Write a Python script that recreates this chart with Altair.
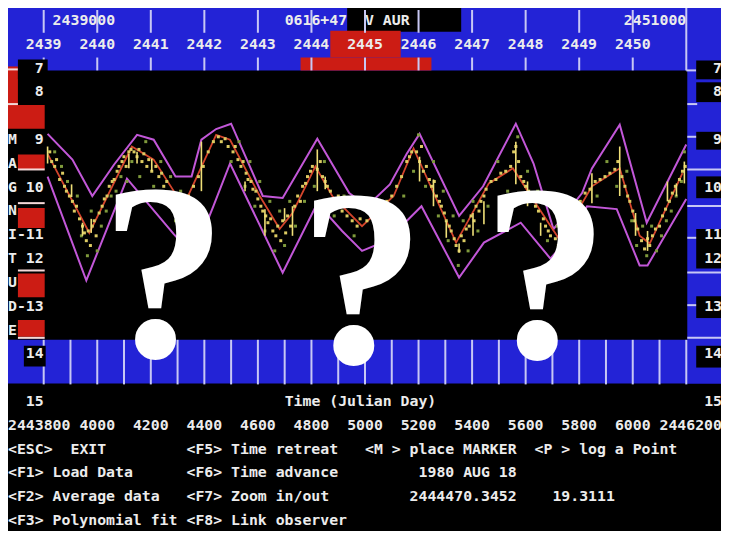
import altair as alt
import pandas as pd

# ---------------- light-curve data: Julian Day and visual magnitude ----------------
upper_jd = [2443847, 2443938, 2444011, 2444091, 2444175, 2444236, 2444316, 2444375, 2444411, 2444465,
            2444520, 2444636, 2444709, 2444836, 2444953, 2445018, 2445102, 2445164, 2445211, 2445356,
            2445444, 2445564, 2445629, 2445702, 2445807, 2445843, 2445945, 2446044, 2446189]
upper_mag = [8.90, 9.43, 10.18, 9.53, 8.92, 9.02, 9.78, 9.78, 9.02, 8.80,
             8.69, 10.18, 10.22, 9.00, 10.12, 10.39, 9.94, 9.31, 8.90, 10.59,
             9.98, 8.69, 9.51, 10.86, 10.12, 9.61, 8.71, 10.73, 9.12]

lower_jd = [2443847, 2443989, 2444138, 2444309, 2444382, 2444455, 2444516, 2444709, 2444836, 2444927,
            2445000, 2445091, 2445218, 2445356, 2445447, 2445582, 2445691, 2445764, 2445825, 2445934,
            2446018, 2446047, 2446189]
lower_mag = [9.78, 11.92, 9.82, 10.96, 11.41, 10.39, 9.51, 11.76, 10.33, 10.90,
             11.31, 11.10, 10.39, 11.86, 11.14, 10.73, 11.47, 11.00, 10.39, 10.45,
             11.61, 11.61, 10.24]

mean_jd = [2443847, 2444000, 2444156, 2444236, 2444345, 2444465, 2444516, 2444625, 2444698, 2444745,
           2444829, 2444891, 2445000, 2445116, 2445189, 2445345, 2445465, 2445553, 2445655, 2445727,
           2445843, 2445945, 2446018, 2446055, 2446175]
mean_mag = [9.31, 10.94, 9.16, 9.43, 10.39, 8.92, 9.02, 10.18, 10.86, 10.53,
            9.57, 10.18, 10.80, 10.18, 9.20, 11.14, 9.92, 9.61, 10.49, 11.10,
            9.98, 9.61, 11.00, 11.16, 9.71]

obs_jd = [2443855, 2443862, 2443873, 2443880, 2443891, 2443902, 2443909, 2443916, 2443927, 2443938,
          2443945, 2443953, 2443964, 2443975, 2443982, 2443989, 2443996, 2444004, 2444011,
          2444018, 2444025, 2444036, 2444047, 2444055, 2444065, 2444073, 2444084, 2444091, 2444102,
          2444109, 2444120, 2444127, 2444135, 2444145, 2444153,
          2444164, 2444175, 2444182, 2444193, 2444200, 2444211, 2444218, 2444229,
          2444244, 2444255, 2444265, 2444273, 2444284, 2444291, 2444302, 2444309, 2444320, 2444327, 2444338,
          2444356, 2444364, 2444382, 2444400, 2444418, 2444436, 2444455,
          2444473, 2444484, 2444498, 2444509,
          2444527, 2444535, 2444545, 2444556, 2444564, 2444575, 2444582, 2444593, 2444600, 2444611, 2444618,
          2444629, 2444636, 2444647, 2444655, 2444665, 2444673, 2444684, 2444691, 2444702,
          2444709, 2444720, 2444727, 2444738,
          2444753, 2444764, 2444774, 2444782, 2444793, 2444800, 2444811, 2444818,
          2444836, 2444847, 2444855, 2444865, 2444873, 2444884,
          2444902, 2444913, 2444927, 2444945, 2444964, 2444982, 2444993,
          2445018, 2445036, 2445055, 2445073, 2445091, 2445109,
          2445127, 2445145, 2445164, 2445174, 2445182,
          2445200, 2445211, 2445218, 2445225, 2445236, 2445247, 2445255, 2445265, 2445273, 2445284,
          2445291, 2445302, 2445309, 2445320, 2445327, 2445338, 2445345,
          2445356, 2445364, 2445374, 2445382, 2445393, 2445400, 2445411, 2445418, 2445429, 2445436,
          2445447, 2445455,
          2445473, 2445491, 2445509, 2445527, 2445545,
          2445556, 2445564, 2445574, 2445582, 2445593, 2445600, 2445611, 2445618, 2445636, 2445647,
          2445665, 2445673, 2445683, 2445691, 2445709, 2445720,
          2445738, 2445753, 2445764, 2445782, 2445800, 2445818, 2445836,
          2445855, 2445873, 2445891, 2445909, 2445927, 2445938,
          2445953, 2445964, 2445974, 2445982, 2445993, 2446000, 2446011,
          2446025, 2446036, 2446047, 2446055,
          2446065, 2446076, 2446091, 2446102, 2446113, 2446127, 2446138, 2446149, 2446164, 2446175, 2446185]
obs_mag = [9.27, 9.47, 9.57, 9.43, 9.84, 9.71, 9.98, 10.08, 10.18, 10.29,
           10.49, 10.39, 10.65, 10.80, 10.94, 11.10, 10.90, 11.20, 10.80,
           10.69, 11.00, 10.53, 10.39, 10.24, 10.18, 9.98, 9.88, 9.84, 9.67,
           9.57, 9.47, 9.37, 9.57, 9.27, 9.22,
           9.27, 9.37, 9.22, 9.47, 9.31, 9.57, 9.43, 9.67,
           9.57, 9.78, 9.71, 9.98, 9.88, 10.12, 10.18, 10.29, 10.49, 10.39, 10.59,
           10.29, 10.18, 9.98, 9.78, 9.57, 9.27, 9.06,
           8.96, 9.06, 9.00, 9.16,
           9.27, 9.16, 9.43, 9.57, 9.47, 9.71, 9.84, 9.88, 10.04, 10.08, 10.24,
           10.39, 10.49, 10.59, 10.73, 10.65, 10.90, 11.00, 10.80, 11.10,
           10.69, 10.94, 10.59, 10.80,
           10.39, 10.18, 10.29, 9.98, 9.92, 9.78, 9.67, 9.57,
           9.63, 9.47, 9.78, 9.88, 9.98, 10.08,
           10.29, 10.18, 10.49, 10.59, 10.69, 10.80, 10.65,
           10.69, 10.59, 10.49, 10.39, 10.29, 10.18,
           9.98, 9.78, 9.47, 9.37, 9.27,
           9.27, 9.47, 9.16, 9.67, 9.57, 9.84, 9.98, 9.88, 10.18, 10.29,
           10.39, 10.53, 10.69, 10.80, 10.90, 11.06, 11.20,
           11.31, 11.00, 11.10, 10.86, 10.80, 10.59, 10.69, 10.39, 10.49, 10.29,
           10.18, 10.04,
           9.88, 9.84, 9.71, 9.67, 9.57,
           9.27, 9.16, 9.47, 9.78, 9.88, 9.98, 10.08, 10.18, 10.39, 10.49,
           10.65, 10.80, 10.90, 11.00, 11.06, 11.20,
           11.00, 10.80, 10.69, 10.49, 10.29, 10.12, 10.04,
           9.88, 9.84, 9.78, 9.71, 9.63, 9.47,
           9.78, 9.98, 10.18, 10.29, 10.49, 10.69, 10.86,
           11.10, 11.27, 11.06, 11.20,
           11.00, 10.86, 10.80, 10.59, 10.45, 10.29, 10.12, 9.98, 9.84, 9.67, 9.57]

obs2_jd = [2443873, 2443898, 2443920, 2443956, 2443971, 2443993, 2444007, 2444029, 2444044, 2444062,
           2444080, 2444098, 2444116, 2444138, 2444156, 2444185, 2444207, 2444236, 2444262, 2444280,
           2444298, 2444316, 2444335, 2444353,
           2444520, 2444549, 2444571, 2444589, 2444607, 2444625, 2444644, 2444662, 2444680, 2444698,
           2444716, 2444735, 2444756, 2444789, 2444825, 2444862, 2444898, 2444934, 2444971,
           2445153, 2445189, 2445207, 2445233, 2445262, 2445280, 2445298, 2445316, 2445334, 2445353,
           2445371, 2445389, 2445407, 2445425, 2445462, 2445498, 2445534, 2445571, 2445607, 2445644,
           2445680, 2445716,
           2445862, 2445898, 2445934, 2445971, 2445989, 2446007, 2446029, 2446044, 2446062, 2446080,
           2446098, 2446116, 2446134, 2446152, 2446171, 2446182]
obs2_mag = [9.27, 9.57, 9.88, 10.18, 11.00, 11.41, 10.49, 11.31, 10.80, 10.49,
            10.18, 10.08, 9.78, 9.88, 9.47, 9.78, 9.06, 9.98, 9.47, 10.29,
            9.78, 10.69, 10.08, 10.80,
            9.47, 9.06, 9.98, 9.47, 10.39, 9.88, 10.90, 10.29, 11.31, 10.49,
            11.20, 10.29, 10.80, 10.29, 9.98, 9.47, 10.59, 10.18, 11.00,
            10.18, 9.67, 8.92, 9.98, 9.47, 10.59, 10.08, 11.10, 10.59, 11.61,
            10.69, 11.31, 10.29, 10.90, 10.39, 9.47, 10.08, 8.96, 9.67, 10.08,
            11.10, 10.80,
            10.18, 9.47, 9.98, 9.67, 10.69, 11.20, 10.80, 11.41, 10.80, 11.31,
            11.00, 10.69, 10.49, 10.18, 9.88, 9.27]

bar_jd = [2443847, 2443935, 2443975, 2444007, 2444145, 2444175, 2444229, 2444411, 2444571, 2444644,
          2444716, 2444745, 2444836, 2444865, 2445211, 2445262, 2445309, 2445356, 2445407, 2445447,
          2445564, 2445607, 2445655, 2445843, 2445945, 2446003, 2446047, 2446120, 2446153, 2446182]
bar_lo = [9.16, 9.94, 10.73, 10.65, 9.31, 9.27, 9.41, 9.06, 9.88, 10.45,
          10.43, 10.39, 9.22, 9.78, 9.37, 9.84, 10.69, 11.16, 10.53, 10.29,
          9.06, 9.88, 10.73, 9.71, 9.16, 10.53, 10.90, 9.88, 9.92, 9.47]
bar_hi = [9.51, 10.20, 11.00, 10.94, 9.61, 9.51, 9.67, 10.08, 10.08, 11.00,
          10.69, 11.00, 10.08, 10.04, 9.88, 10.39, 11.04, 11.35, 11.00, 10.76,
          9.94, 10.39, 11.00, 10.33, 10.18, 11.00, 11.31, 10.29, 10.18, 9.92]

# ---------------- screen texts ----------------
title_star = ["0616+47", "V AUR"]
range_start, range_end = "2439000", "2451000"
year_labels = [str(y) for y in range(2439, 2451)]
time_tick_labels = ["2443800", "4000", "4200", "4400", "4600", "4800", "5000",
                    "5200", "5400", "5600", "5800", "6000", "2446200"]
mag_left = ["7", "8", "9", "10", "11", "12", "13", "14", "15"]
axis_word = ["M", "A", "G", "N", "I", "T", "U", "D", "E"]
menu = [
    (0, 18, "<ESC>"), (7, 18, "EXIT"), (20, 18, "<F5> Time retreat"),
    (40, 18, "<M > place MARKER"), (59, 18, "<P > log a Point"),
    (0, 19, "<F1> Load Data"), (20, 19, "<F6> Time advance"), (46, 19, "1980 AUG 18"),
    (0, 20, "<F2> Average data"), (20, 20, "<F7> Zoom in/out"),
    (45, 20, "2444470.3452"), (61, 20, "19.3111"),
    (0, 21, "<F3> Polynomial fit"), (20, 21, "<F8> Link observer"),
]

# ---------------- layout helpers (screen geometry) ----------------
W, H = 713, 523
def X(px): return (px - 3) * W / 719.0
def Y(py): return (py - 5) * H / 528.0
def COL(c): return 3 + 9 * c
def ROW(r): return 18 + 24.05 * r

BLUE = "#2323d6"
RED = "#cc1c14"
TICK = "#c8c8f4"
FONT = "DejaVu Sans Mono"
FS = 9 * W / 719.0 / 0.602

# background rectangles
rects = [
    (3, 722, 5, 68, BLUE), (3, 722, 340, 384, BLUE), (688, 722, 68, 384, BLUE),
    (345, 460, 5, 29, "black"),
    (328, 399, 28, 55, RED), (298, 430, 55, 68, RED),
    (3, 13, 64, 103, RED), (3, 40, 103, 127, RED), (13, 40, 153, 168, RED),
    (13, 40, 207, 227, RED), (13, 40, 273, 297, RED), (13, 40, 320, 337, RED),
]
boxes = [
    (13, 43, 57, 77), (19, 41, 346, 367),
    (697, 722, 58, 77), (697, 722, 80, 100), (697, 722, 130, 148), (697, 722, 175, 197),
    (697, 722, 228, 268), (697, 722, 296, 318), (697, 722, 346, 368),
]
rules = []
for i in range(13):
    x = 39 + 54 * i
    if i == 12:
        rules.append((x, x, 5, 68, TICK))
    else:
        rules.append((x, x, 7, 30, TICK))
        rules.append((x, x, 55, 68, TICK))
rules.append((687, 697, 68, 68, TICK))
for i in range(25):
    x = 39 + 27 * i
    rules.append((x, x, 340, 385, TICK))
for yy in (102, 135):
    rules.append((688, 698, yy, yy, TICK))
for yy in (168, 205, 272, 338):
    rules.append((688, 722, yy, yy, TICK))
for yy in (237, 305):
    rules.append((688, 708, yy, yy, TICK))
for yy in (67, 102):
    rules.append((3, 13, yy, yy, "#f4d8d8"))
for yy in (168, 202, 270, 338):
    rules.append((13, 40, yy, yy, "#f4d8d8"))

rect_df = pd.DataFrame([{"x0": X(a), "x1": X(b), "y0": Y(c), "y1": Y(d), "c": col} for a, b, c, d, col in rects])
box_df = pd.DataFrame([{"x0": X(a), "x1": X(b), "y0": Y(c), "y1": Y(d), "c": "black"} for a, b, c, d in boxes])
rule_df = pd.DataFrame([{"x0": X(a), "x1": X(b), "y0": Y(c), "y1": Y(d), "c": col} for a, b, c, d, col in rules])

def rect_layer(df):
    return alt.Chart(df).mark_rect().encode(
        x=alt.X("x0:Q", scale=None, axis=None), x2="x1:Q",
        y=alt.Y("y0:Q", scale=None, axis=None), y2="y1:Q",
        color=alt.Color("c:N", scale=None))

rule_layer = alt.Chart(rule_df).mark_rule(strokeWidth=2).encode(
    x=alt.X("x0:Q", scale=None, axis=None), x2="x1:Q",
    y=alt.Y("y0:Q", scale=None, axis=None), y2="y1:Q",
    color=alt.Color("c:N", scale=None))

# texts on the screen grid
band_texts = [(5, 0, range_start), (31, 0, title_star[0]), (40, 0, title_star[1]), (69, 0, range_end)]
band_texts += [(2 + 6 * k, 1, lab) for k, lab in enumerate(year_labels)]

side_rows = [2, 3, 5, 7, 9, 10, 12, 14, 16]
word_rows = [5, 6, 7, 8, 9, 10, 11, 12, 13]
screen_texts = list(band_texts)
for lab, r in zip(mag_left, side_rows):
    screen_texts.append((4 - len(lab), r, lab))
    screen_texts.append((80 - len(lab), r, lab))
for ch, r in zip(axis_word, word_rows):
    screen_texts.append((0, r, ch))
screen_texts.append((1, 9, "-"))
screen_texts.append((1, 12, "-"))
screen_texts.append((31, 16, "Time (Julian Day)"))
tick_cols = [0] + [8 + 6 * k for k in range(11)] + [73]
screen_texts += [(c, 17, lab) for c, lab in zip(tick_cols, time_tick_labels)]
screen_texts += menu

scr_df = pd.DataFrame([{"x": X(COL(c)), "y": Y(ROW(r)), "t": s} for c, r, s in screen_texts])
texts = alt.Chart(scr_df).mark_text(
    color="#ececec", font=FONT, fontSize=FS, fontWeight="bold", align="left", baseline="middle"
).encode(x=alt.X("x:Q", scale=None, axis=None), y=alt.Y("y:Q", scale=None, axis=None), text="t:N")

# ---------------- light curve through scales ----------------
xs = alt.Scale(domain=[2443800, 2446200], range=[X(30), X(690)], nice=False, zero=False)
ys = alt.Scale(domain=[9, 12], range=[Y(137), Y(284)], nice=False, zero=False)
xe = alt.X("jd:Q", scale=xs, axis=None)
ye = alt.Y("mag:Q", scale=ys, axis=None)

env_df = pd.DataFrame({"jd": upper_jd + lower_jd, "mag": upper_mag + lower_mag,
                       "band": ["upper"] * len(upper_jd) + ["lower"] * len(lower_jd)})
mean_df = pd.DataFrame({"jd": mean_jd, "mag": mean_mag})
obs_df = pd.DataFrame({"jd": obs2_jd + obs_jd, "mag": obs2_mag + obs_mag,
                       "grp": ["b"] * len(obs2_jd) + ["a"] * len(obs_jd)})
bar_df = pd.DataFrame({"jd": bar_jd, "lo": bar_lo, "hi": bar_hi})

env = alt.Chart(env_df).mark_line(color="#c257d8", strokeWidth=2).encode(x=xe, y=ye, detail="band:N")
mean = alt.Chart(mean_df).mark_line(color="#d4452c", strokeWidth=1.8).encode(x=xe, y=ye)
dots = alt.Chart(obs_df).mark_square(size=9, opacity=1).encode(
    x=xe, y=ye,
    color=alt.Color("grp:N", scale=alt.Scale(domain=["a", "b"], range=["#dccb62", "#7f9a3c"]), legend=None))
bars = alt.Chart(bar_df).mark_rule(color="#efdf78", strokeWidth=1.6).encode(
    x=xe, y=alt.Y("lo:Q", scale=ys, axis=None), y2="hi:Q")
curve = alt.layer(env, mean, dots, bars)

# ---------------- the three question marks ----------------
q_df = pd.DataFrame({"x": [X(160), X(360), X(545)], "y": [Y(356), Y(362), Y(357)], "t": ["?", "?", "?"]})
qmarks = alt.Chart(q_df).mark_text(font="Liberation Serif", fontSize=253, fontWeight="bold",
                                  align="center", baseline="alphabetic", color="white").encode(
    x=alt.X("x:Q", scale=None, axis=None), y=alt.Y("y:Q", scale=None, axis=None), text="t:N")

chart = alt.layer(
    rect_layer(rect_df), rule_layer, rect_layer(box_df), curve, qmarks, texts,
).resolve_scale(x="independent", y="independent").properties(
    width=W, height=H, padding=0, autosize=alt.AutoSizeParams(type="none")
).configure(background="black").configure_view(stroke=None)

chart.save("out.html", embed_options={"renderer": "svg", "actions": False})
